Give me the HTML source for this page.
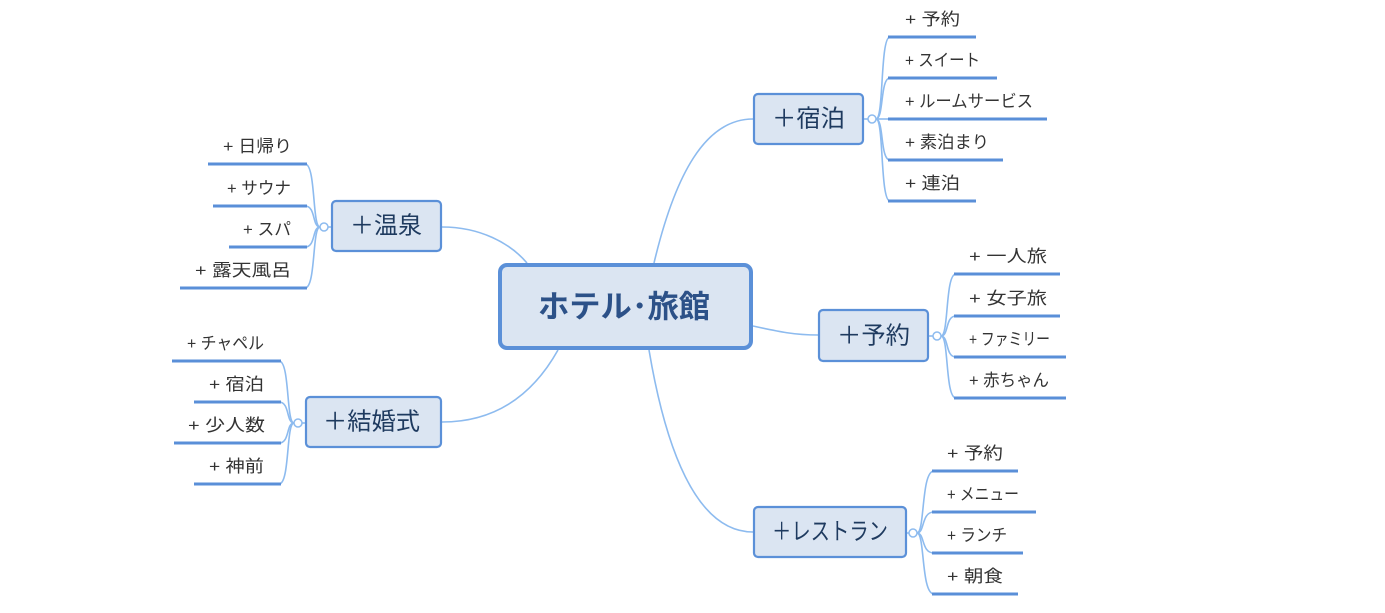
<!DOCTYPE html>
<html><head><meta charset="utf-8"><style>
html,body{margin:0;padding:0;background:#fff;}
svg{display:block;}
text{font-family:"Liberation Sans","Noto Sans CJK JP",sans-serif;}
.c{fill:none;stroke:#8dbbef;stroke-width:1.6;}
.u{stroke:#5a8fd8;stroke-width:3;}
.b{fill:#dbe5f2;stroke:#5b90d8;stroke-width:2.2;}
.bt{font-size:24px;fill:#1e3a5f;dominant-baseline:central;}
.ct{font-size:17px;fill:#333;}
.dot{fill:#fff;stroke:#8dbbef;stroke-width:1.5;}
</style></head><body>
<svg width="1385" height="613" viewBox="0 0 1385 613" xmlns="http://www.w3.org/2000/svg">
<!-- main connectors -->
<path class="c" d="M442 227 C480 227 510 243 527 263"/>
<path class="c" d="M654 263 C675 175 705 119 753 119"/>
<path class="c" d="M558 350 C530 400 490 422 442 422"/>
<path class="c" d="M649 350 C665 445 695 532 753 532"/>
<path class="c" d="M753 326 C780 332 795 335 818 335"/>

<!-- central -->
<rect x="500" y="265" width="251" height="83" rx="7" fill="#dbe5f2" stroke="#5b90d8" stroke-width="4"/>
<text x="538" y="307" font-size="31" font-weight="bold" fill="#2c5188" dominant-baseline="central" textLength="172" lengthAdjust="spacingAndGlyphs">ホテル･旅館</text>

<!-- 宿泊 -->
<rect class="b" x="754" y="94" width="109" height="50" rx="4"/>
<text class="bt" x="772" y="119" textLength="73" lengthAdjust="spacingAndGlyphs">＋宿泊</text>
<line class="c" x1="864" y1="119" x2="868" y2="119"/>
<path class="c" d="M876 119 C884 119 880 37 890 37"/>
<path class="c" d="M876 119 C884 119 880 78 890 78"/>
<path class="c" d="M876 119 L890 119"/>
<path class="c" d="M876 119 C884 119 880 160 890 160"/>
<path class="c" d="M876 119 C884 119 880 201 890 201"/>
<circle class="dot" cx="872" cy="119" r="4"/>
<line class="u" x1="888" y1="37" x2="976" y2="37"/>
<line class="u" x1="888" y1="78" x2="997" y2="78"/>
<line class="u" x1="888" y1="119" x2="1047" y2="119"/>
<line class="u" x1="888" y1="160" x2="1003" y2="160"/>
<line class="u" x1="888" y1="201" x2="976" y2="201"/>
<text class="ct" x="905" y="25" textLength="55" lengthAdjust="spacingAndGlyphs">+ 予約</text>
<text class="ct" x="905" y="66" textLength="75" lengthAdjust="spacingAndGlyphs">+ スイート</text>
<text class="ct" x="905" y="107" textLength="128" lengthAdjust="spacingAndGlyphs">+ ルームサービス</text>
<text class="ct" x="905" y="148" textLength="84" lengthAdjust="spacingAndGlyphs">+ 素泊まり</text>
<text class="ct" x="905" y="189" textLength="55" lengthAdjust="spacingAndGlyphs">+ 連泊</text>

<!-- 予約 -->
<rect class="b" x="819" y="310" width="109" height="51" rx="4"/>
<text class="bt" x="837" y="336" textLength="73" lengthAdjust="spacingAndGlyphs">＋予約</text>
<line class="c" x1="929" y1="336" x2="933" y2="336"/>
<path class="c" d="M941 336 C949 336 945 274 956 274"/>
<path class="c" d="M941 336 C949 336 945 316 956 316"/>
<path class="c" d="M941 336 C949 336 945 357 956 357"/>
<path class="c" d="M941 336 C949 336 945 398 956 398"/>
<circle class="dot" cx="937" cy="336" r="4"/>
<line class="u" x1="954" y1="274" x2="1060" y2="274"/>
<line class="u" x1="954" y1="316" x2="1060" y2="316"/>
<line class="u" x1="954" y1="357" x2="1066" y2="357"/>
<line class="u" x1="954" y1="398" x2="1066" y2="398"/>
<text class="ct" x="969" y="262" textLength="78" lengthAdjust="spacingAndGlyphs">+ 一人旅</text>
<text class="ct" x="969" y="304" textLength="78" lengthAdjust="spacingAndGlyphs">+ 女子旅</text>
<text class="ct" x="969" y="345" textLength="81" lengthAdjust="spacingAndGlyphs">+ ファミリー</text>
<text class="ct" x="969" y="386" textLength="80" lengthAdjust="spacingAndGlyphs">+ 赤ちゃん</text>

<!-- レストラン -->
<rect class="b" x="754" y="507" width="152" height="50" rx="4"/>
<text class="bt" x="772" y="532" textLength="116" lengthAdjust="spacingAndGlyphs">＋レストラン</text>
<line class="c" x1="907" y1="533" x2="909" y2="533"/>
<path class="c" d="M917 533 C925 533 921 471 934 471"/>
<path class="c" d="M917 533 C925 533 921 512 934 512"/>
<path class="c" d="M917 533 C925 533 921 553 934 553"/>
<path class="c" d="M917 533 C925 533 921 594 934 594"/>
<circle class="dot" cx="913" cy="533" r="4"/>
<line class="u" x1="932" y1="471" x2="1018" y2="471"/>
<line class="u" x1="932" y1="512" x2="1036" y2="512"/>
<line class="u" x1="932" y1="553" x2="1023" y2="553"/>
<line class="u" x1="932" y1="594" x2="1018" y2="594"/>
<text class="ct" x="947" y="459" textLength="56" lengthAdjust="spacingAndGlyphs">+ 予約</text>
<text class="ct" x="947" y="500" textLength="72" lengthAdjust="spacingAndGlyphs">+ メニュー</text>
<text class="ct" x="947" y="541" textLength="60" lengthAdjust="spacingAndGlyphs">+ ランチ</text>
<text class="ct" x="947" y="582" textLength="56" lengthAdjust="spacingAndGlyphs">+ 朝食</text>

<!-- 温泉 -->
<rect class="b" x="332" y="201" width="109" height="50" rx="4"/>
<text class="bt" x="350" y="226" textLength="72" lengthAdjust="spacingAndGlyphs">＋温泉</text>
<line class="c" x1="328" y1="227" x2="331" y2="227"/>
<path class="c" d="M320 227 C312 227 316 164 305 164"/>
<path class="c" d="M320 227 C312 227 316 206 305 206"/>
<path class="c" d="M320 227 C312 227 316 247 305 247"/>
<path class="c" d="M320 227 C312 227 316 288 305 288"/>
<circle class="dot" cx="324" cy="227" r="4"/>
<line class="u" x1="208" y1="164" x2="307" y2="164"/>
<line class="u" x1="213" y1="206" x2="307" y2="206"/>
<line class="u" x1="229" y1="247" x2="307" y2="247"/>
<line class="u" x1="180" y1="288" x2="307" y2="288"/>
<text class="ct" x="223" y="152" textLength="69" lengthAdjust="spacingAndGlyphs">+ 日帰り</text>
<text class="ct" x="227" y="194" textLength="64" lengthAdjust="spacingAndGlyphs">+ サウナ</text>
<text class="ct" x="243" y="235" textLength="48" lengthAdjust="spacingAndGlyphs">+ スパ</text>
<text class="ct" x="195" y="276" textLength="96" lengthAdjust="spacingAndGlyphs">+ 露天風呂</text>

<!-- 結婚式 -->
<rect class="b" x="306" y="397" width="135" height="50" rx="4"/>
<text class="bt" x="323" y="422" textLength="97" lengthAdjust="spacingAndGlyphs">＋結婚式</text>
<line class="c" x1="302" y1="423" x2="305" y2="423"/>
<path class="c" d="M294 423 C286 423 290 361 279 361"/>
<path class="c" d="M294 423 C286 423 290 402 279 402"/>
<path class="c" d="M294 423 C286 423 290 443 279 443"/>
<path class="c" d="M294 423 C286 423 290 484 279 484"/>
<circle class="dot" cx="298" cy="423" r="4"/>
<line class="u" x1="172" y1="361" x2="281" y2="361"/>
<line class="u" x1="194" y1="402" x2="281" y2="402"/>
<line class="u" x1="174" y1="443" x2="281" y2="443"/>
<line class="u" x1="194" y1="484" x2="281" y2="484"/>
<text class="ct" x="187" y="349" textLength="77" lengthAdjust="spacingAndGlyphs">+ チャペル</text>
<text class="ct" x="209" y="390" textLength="55" lengthAdjust="spacingAndGlyphs">+ 宿泊</text>
<text class="ct" x="188" y="431" textLength="77" lengthAdjust="spacingAndGlyphs">+ 少人数</text>
<text class="ct" x="209" y="472" textLength="55" lengthAdjust="spacingAndGlyphs">+ 神前</text>
</svg>
</body></html>
